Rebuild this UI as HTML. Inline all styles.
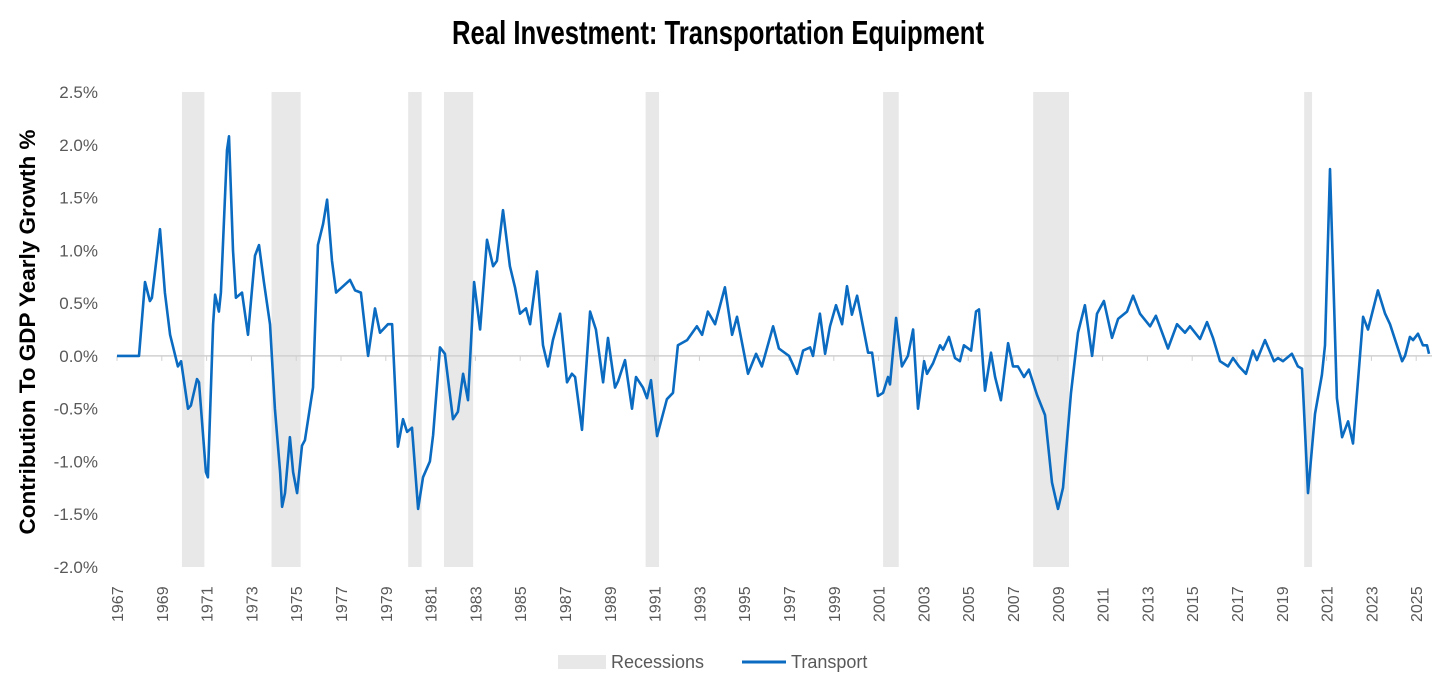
<!DOCTYPE html>
<html><head><meta charset="utf-8"><style>
html,body{margin:0;padding:0;background:#fff;}
svg{display:block;font-family:"Liberation Sans",sans-serif;}
</style></head><body>
<svg id="chart" width="1456" height="685">
<text x="718" y="44" text-anchor="middle" font-size="33" font-weight="bold" fill="#000" textLength="532" lengthAdjust="spacingAndGlyphs">Real Investment: Transportation Equipment</text>
<text transform="translate(35,332) rotate(-90)" text-anchor="middle" font-size="22.5" font-weight="bold" fill="#000">Contribution To GDP Yearly Growth %</text>
<g id="rec"></g>
<g id="axes"></g>
<g id="series"></g>
<g>
<rect x="558" y="655" width="48" height="14" fill="#e8e8e8"/>
<text x="611" y="668" font-size="18" fill="#595959">Recessions</text>
<line x1="742" y1="662" x2="786" y2="662" stroke="#0a6bc1" stroke-width="3"/>
<text x="791" y="668" font-size="18" fill="#595959">Transport</text>
</g>
</svg>
<script>
const years = [1967.0,1967.98,1968.25,1968.47,1968.56,1968.92,1969.14,1969.37,1969.72,1969.86,1970.17,1970.3,1970.57,1970.66,1970.97,1971.06,1971.29,1971.38,1971.55,1971.64,1971.91,1972.0,1972.18,1972.31,1972.58,1972.85,1973.16,1973.34,1973.56,1973.83,1974.05,1974.28,1974.37,1974.5,1974.72,1974.86,1975.04,1975.26,1975.39,1975.75,1975.97,1976.2,1976.38,1976.6,1976.78,1977.04,1977.4,1977.63,1977.89,1978.21,1978.52,1978.74,1979.1,1979.28,1979.54,1979.77,1979.95,1980.17,1980.44,1980.66,1980.97,1981.11,1981.42,1981.64,1982.0,1982.22,1982.45,1982.67,1982.94,1983.21,1983.52,1983.79,1983.96,1984.23,1984.54,1984.77,1984.99,1985.26,1985.44,1985.75,1986.02,1986.24,1986.46,1986.78,1987.09,1987.31,1987.45,1987.76,1988.12,1988.38,1988.7,1988.92,1989.23,1989.37,1989.68,1989.99,1990.17,1990.48,1990.66,1990.84,1991.11,1991.55,1991.82,1992.04,1992.45,1992.89,1993.12,1993.38,1993.7,1994.14,1994.46,1994.68,1995.17,1995.53,1995.79,1996.29,1996.55,1997.0,1997.36,1997.63,1997.94,1998.07,1998.38,1998.61,1998.83,1999.1,1999.37,1999.59,1999.81,2000.04,2000.53,2000.71,2000.97,2001.2,2001.42,2001.51,2001.78,2002.04,2002.31,2002.54,2002.76,2003.03,2003.16,2003.43,2003.74,2003.88,2004.14,2004.41,2004.63,2004.81,2005.13,2005.35,2005.48,2005.75,2006.02,2006.2,2006.46,2006.78,2007.0,2007.22,2007.49,2007.71,2008.07,2008.43,2008.74,2009.01,2009.23,2009.59,2009.9,2010.21,2010.53,2010.75,2011.06,2011.42,2011.69,2012.09,2012.36,2012.67,2013.12,2013.38,2013.92,2014.32,2014.68,2014.9,2015.35,2015.66,2015.93,2016.24,2016.6,2016.82,2017.09,2017.4,2017.71,2017.89,2018.25,2018.65,2018.83,2019.05,2019.45,2019.72,2019.9,2020.17,2020.48,2020.79,2020.93,2021.15,2021.46,2021.69,2021.96,2022.18,2022.63,2022.85,2023.29,2023.61,2023.83,2024.37,2024.5,2024.72,2024.86,2025.08,2025.3,2025.48,2025.57];
const transport = [0,0,0.7,0.52,0.55,1.2,0.6,0.2,-0.1,-0.05,-0.5,-0.47,-0.22,-0.25,-1.1,-1.15,0.3,0.58,0.42,0.6,1.95,2.08,1.0,0.55,0.6,0.2,0.95,1.05,0.7,0.3,-0.5,-1.1,-1.43,-1.3,-0.77,-1.1,-1.3,-0.85,-0.8,-0.3,1.05,1.25,1.48,0.9,0.6,0.65,0.72,0.62,0.6,0.0,0.45,0.22,0.3,0.3,-0.86,-0.6,-0.72,-0.68,-1.45,-1.15,-1.0,-0.75,0.08,0.02,-0.6,-0.53,-0.17,-0.42,0.7,0.25,1.1,0.85,0.9,1.38,0.85,0.65,0.4,0.45,0.3,0.8,0.1,-0.1,0.15,0.4,-0.25,-0.17,-0.2,-0.7,0.42,0.25,-0.25,0.17,-0.3,-0.24,-0.04,-0.5,-0.2,-0.3,-0.4,-0.23,-0.76,-0.41,-0.35,0.1,0.15,0.28,0.2,0.42,0.3,0.65,0.2,0.37,-0.17,0.02,-0.1,0.28,0.07,0.0,-0.17,0.05,0.08,0.0,0.4,0.02,0.28,0.48,0.3,0.66,0.39,0.57,0.03,0.03,-0.38,-0.35,-0.2,-0.27,0.36,-0.1,0.0,0.25,-0.5,-0.05,-0.17,-0.07,0.1,0.06,0.18,-0.02,-0.05,0.1,0.05,0.42,0.44,-0.33,0.03,-0.2,-0.42,0.12,-0.1,-0.1,-0.2,-0.13,-0.37,-0.56,-1.2,-1.45,-1.25,-0.35,0.22,0.48,0.0,0.4,0.52,0.17,0.35,0.42,0.57,0.4,0.28,0.38,0.07,0.3,0.22,0.28,0.16,0.32,0.17,-0.05,-0.1,-0.02,-0.1,-0.17,0.05,-0.04,0.15,-0.05,-0.02,-0.05,0.02,-0.1,-0.12,-1.3,-0.55,-0.18,0.1,1.77,-0.4,-0.77,-0.62,-0.83,0.37,0.25,0.62,0.4,0.3,-0.05,0.0,0.18,0.15,0.21,0.1,0.1,0.02];
const recStart = [1969.9,1973.9,1980.0,1981.6,1990.6,2001.2,2007.9,2020.0];
const recEnd = [1970.9,1975.2,1980.6,1982.9,1991.2,2001.9,2009.5,2020.35];
const yTicks = [2.5,2.0,1.5,1.0,0.5,0.0,-0.5,-1.0,-1.5,-2.0];
const xTickYears = [1967,1969,1971,1973,1975,1977,1979,1981,1983,1985,1987,1989,1991,1993,1995,1997,1999,2001,2003,2005,2007,2009,2011,2013,2015,2017,2019,2021,2023,2025];

const X0=117, PX_PER_YEAR=22.4, Y_TOP=92, Y_BOT=567, VMAX=2.5, VMIN=-2.0;
const xs = y => X0 + (y-1967)*PX_PER_YEAR;
const ys = v => Y_TOP + (VMAX-v)/(VMAX-VMIN)*(Y_BOT-Y_TOP);
const NS='http://www.w3.org/2000/svg';
function mk(tag, attrs, parent){const e=document.createElementNS(NS,tag);for(const k in attrs)e.setAttribute(k,attrs[k]);parent.appendChild(e);return e;}

const rec=document.getElementById('rec');
recStart.forEach((s,i)=>{
  const r=mk('rect',{x:xs(s),y:Y_TOP,width:xs(recEnd[i])-xs(s),height:Y_BOT-Y_TOP,fill:'#e8e8e8'},rec);
  
  
});

const axes=document.getElementById('axes');
const zl=mk('line',{x1:X0,x2:1432,y1:ys(0),y2:ys(0),stroke:'#d0d0d0','stroke-width':1.5},axes);


yTicks.forEach(v=>{
  const t=mk('text',{x:98,y:ys(v)+6,'text-anchor':'end','font-size':17,fill:'#595959'},axes);
  t.textContent=v.toFixed(1)+'%';
  
  
});
xTickYears.forEach(yr=>{
  const x=xs(yr);
  const tk=mk('line',{x1:x,x2:x,y1:ys(0),y2:ys(0)+5,stroke:'#d0d0d0','stroke-width':1},axes);
  
  
  const t=mk('text',{transform:`translate(${x+6},${622}) rotate(-90)`,'text-anchor':'start','font-size':16,fill:'#595959'},axes);
  t.textContent=String(yr);
  
  
});

const series=document.getElementById('series');
let d='';
years.forEach((yr,i)=>{d+=(i?'L':'M')+xs(yr).toFixed(1)+','+ys(transport[i]).toFixed(1);});
const p=mk('path',{d:d,fill:'none',stroke:'#0a6bc1','stroke-width':2.6,'stroke-linejoin':'round'},series);


</script>
</body></html>
